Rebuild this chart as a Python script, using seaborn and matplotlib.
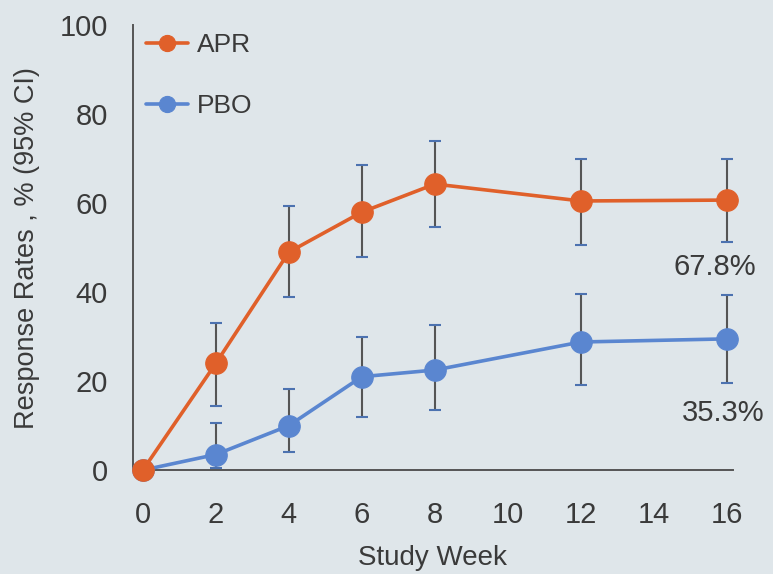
import numpy as np
import pandas as pd
import matplotlib
matplotlib.use("Agg")
import matplotlib.pyplot as plt
import seaborn as sns

# ---- data ----
weeks = [0, 2, 4, 6, 8, 12, 16]
apr = [0, 24, 49, 58, 64.3, 60.5, 60.7]
apr_lo = [0, 14.5, 39, 48, 54.7, 50.7, 51.3]
apr_hi = [0, 33, 59.4, 68.5, 73.9, 70, 70]
pbo = [0, 3.5, 10, 21, 22.5, 28.8, 29.5]
pbo_lo = [0, 0.5, 4, 12, 13.6, 19.2, 19.6]
pbo_hi = [0, 10.5, 18.3, 30, 32.6, 39.5, 39.3]
groups = ["APR", "PBO"]
x_ticks = [0, 2, 4, 6, 8, 10, 12, 14, 16]
y_ticks = [0, 20, 40, 60, 80, 100]
final_labels = ["67.8%", "35.3%"]

colors = {"APR": "#e0602a", "PBO": "#5a86d0"}
bg = "#dfe6ea"
txt = "#3a3a3a"

sns.set_theme(style="white")
plt.rcParams["font.family"] = ["Liberation Sans", "DejaVu Sans"]

df = pd.DataFrame({
    "week": weeks + weeks,
    "rate": apr + pbo,
    "group": ["APR"] * len(weeks) + ["PBO"] * len(weeks),
})

fig = plt.figure(figsize=(7.73, 5.74), dpi=100)
fig.patch.set_facecolor(bg)
ax = fig.add_axes([0.172, 0.181, 0.776, 0.775])
ax.set_facecolor(bg)

# error bars (behind markers)
for vals, lo, hi in [(apr, apr_lo, apr_hi), (pbo, pbo_lo, pbo_hi)]:
    v = np.array(vals); l = np.array(lo); h = np.array(hi)
    ax.errorbar(weeks, v, yerr=[v - l, h - v], fmt="none", ecolor="#555555",
                elinewidth=1.5, capsize=4, capthick=1.5, zorder=1, clip_on=False)

sns.lineplot(data=df, x="week", y="rate", hue="group", hue_order=groups,
             palette=colors, marker="o", markersize=15.5, linewidth=2.6,
             markeredgewidth=0.8, ax=ax, zorder=3, clip_on=False)
for line in ax.lines:
    c = line.get_color()
    line.set_markeredgecolor(c)
    if matplotlib.colors.same_color(c, colors["APR"]):
        line.set_zorder(4)

ax.set_xlim(-0.27, 16.16)
ax.set_ylim(0, 100)
ax.set_xticks(x_ticks)
ax.set_yticks(y_ticks)
ax.tick_params(axis="both", labelsize=21, colors=txt, length=8, width=1.3,
               direction="out")
ax.tick_params(axis="y", pad=10)
ax.tick_params(axis="x", pad=14)
for side in ["top", "right"]:
    ax.spines[side].set_visible(False)
for side in ["left", "bottom"]:
    ax.spines[side].set_color("#555555")
    ax.spines[side].set_linewidth(1.4)

ax.set_xlabel("Study Week", fontsize=20, color=txt, labelpad=12)
ax.set_ylabel("Response Rates , % (95% CI)", fontsize=19.5, color=txt, labelpad=14)

ax.text(15.67, 45.6, final_labels[0], fontsize=21, color=txt, ha="center", va="center")
ax.text(15.9, 12.8, final_labels[1], fontsize=21, color=txt, ha="center", va="center")

handles, labels = ax.get_legend_handles_labels()
leg = ax.legend(handles, labels, loc="upper left", bbox_to_anchor=(-0.005, 1.018),
                frameon=False, fontsize=19, markerscale=0.75, handlelength=1.6,
                labelspacing=1.4, handletextpad=0.35, borderaxespad=0.2)
for t in leg.get_texts():
    t.set_color(txt)

fig.savefig("out.png", dpi=100, facecolor=bg)
